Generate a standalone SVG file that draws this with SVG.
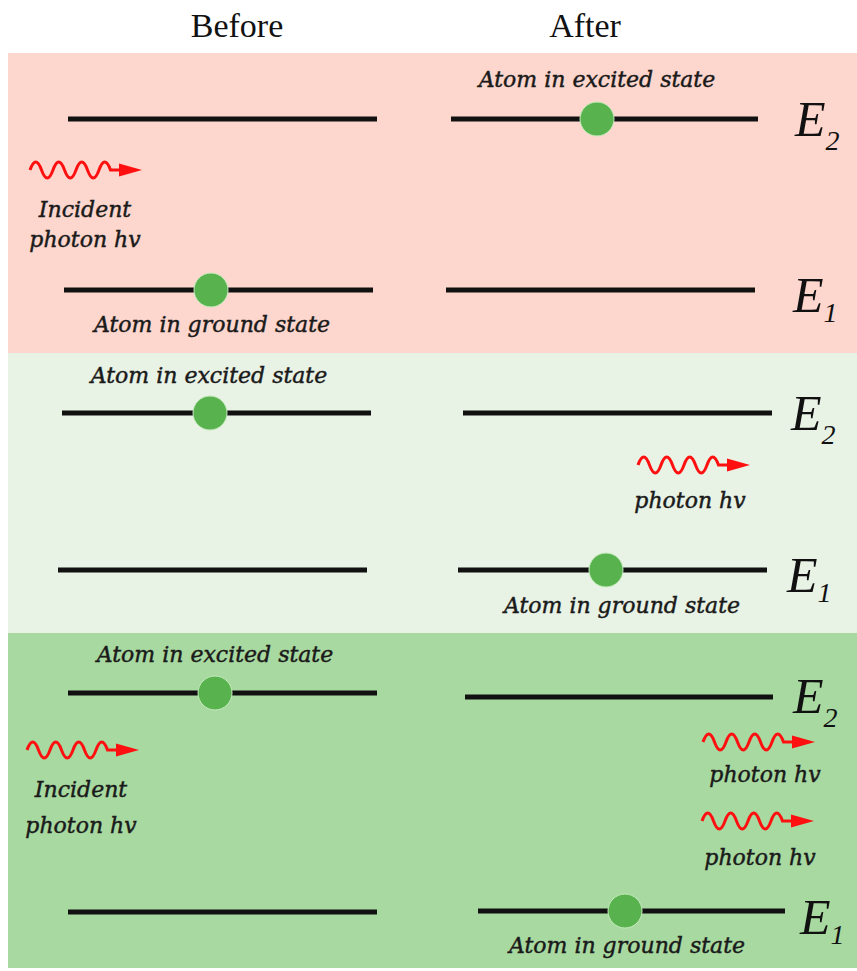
<svg xmlns="http://www.w3.org/2000/svg" xmlns:xlink="http://www.w3.org/1999/xlink" width="857" height="971" viewBox="0 0 857 971">
  <style>
    .lvl { stroke: #111; stroke-width: 5; stroke-linecap: butt; }
    .atom { fill: #58b24e; stroke: #c8ecc0; stroke-width: 1; }
    .lbl { font-family: "DejaVu Serif", serif; font-style: italic; font-size: 22px; fill: #1a1a1a; stroke: #1a1a1a; stroke-width: 0.45; text-anchor: middle; }
    .head { font-family: "Liberation Serif", serif; font-size: 34px; fill: #111; text-anchor: middle; }
    .en { font-family: "Liberation Serif", serif; font-style: italic; font-size: 50px; fill: #111; }
    .sub { font-size: 28px; }
    .wave { fill: none; stroke: #ff1010; stroke-width: 3; }
    .tip { fill: #ff1010; }
  </style>
  <defs>
    <!-- wavy photon with arrowhead, origin at wave start on its centre line -->
    <g id="photon">
      <path class="wave" d="M0,0 Q5.75,-16 11.5,0 Q17.25,16 23,0 Q28.75,-16 34.5,0 Q40.25,16 46,0 Q51.75,-16 57.5,0 Q63.25,16 69,0 Q74.75,-16 80.5,0 L92,0"/>
      <polygon class="tip" points="89,-6.5 112,0 89,6.5"/>
    </g>
  </defs>

  <rect width="857" height="971" fill="#ffffff"/>

  <!-- background bands -->
  <rect x="8" y="53" width="849" height="300" fill="#fdd6cd"/>
  <rect x="8" y="353" width="849" height="280" fill="#e8f2e5"/>
  <rect x="8" y="633" width="849" height="335" fill="#a8d9a0"/>

  <g id="headings">
    <text class="head" x="237" y="37">Before</text>
    <text class="head" x="585" y="37">After</text>
  </g>

  <!-- absorption -->
  <g id="absorption">
    <line class="lvl" x1="68" y1="119" x2="377" y2="119"/>
    <line class="lvl" x1="451" y1="119" x2="758" y2="119"/>
    <circle class="atom" cx="597" cy="119" r="17"/>
    <text class="lbl" x="597" y="87">Atom in excited state</text>
    <text class="en" x="795" y="136">E<tspan class="sub" dy="14">2</tspan></text>
    <use xlink:href="#photon" x="30" y="170"/>
    <text class="lbl" x="85" y="217">Incident</text>
    <text class="lbl" x="85" y="247">photon hv</text>
    <line class="lvl" x1="64" y1="290" x2="373" y2="290"/>
    <circle class="atom" cx="211" cy="290" r="17"/>
    <line class="lvl" x1="446" y1="290" x2="755" y2="290"/>
    <text class="lbl" x="212" y="332">Atom in ground state</text>
    <text class="en" x="793" y="312">E<tspan class="sub" dy="10">1</tspan></text>
  </g>

  <!-- spontaneous emission -->
  <g id="spontaneous">
    <text class="lbl" x="209" y="383">Atom in excited state</text>
    <line class="lvl" x1="62" y1="413" x2="371" y2="413"/>
    <circle class="atom" cx="210" cy="413" r="17"/>
    <line class="lvl" x1="463" y1="413" x2="772" y2="413"/>
    <text class="en" x="791" y="430">E<tspan class="sub" dy="14">2</tspan></text>
    <use xlink:href="#photon" x="638" y="465"/>
    <text class="lbl" x="690" y="508">photon hv</text>
    <line class="lvl" x1="58" y1="570" x2="367" y2="570"/>
    <line class="lvl" x1="458" y1="570" x2="767" y2="570"/>
    <circle class="atom" cx="606" cy="570" r="17"/>
    <text class="lbl" x="622" y="613">Atom in ground state</text>
    <text class="en" x="787" y="592">E<tspan class="sub" dy="10">1</tspan></text>
  </g>

  <!-- stimulated emission -->
  <g id="stimulated">
    <text class="lbl" x="215" y="662">Atom in excited state</text>
    <line class="lvl" x1="68" y1="693" x2="377" y2="693"/>
    <circle class="atom" cx="215" cy="693" r="17"/>
    <line class="lvl" x1="465" y1="697" x2="773" y2="697"/>
    <text class="en" x="793" y="713">E<tspan class="sub" dy="14">2</tspan></text>
    <use xlink:href="#photon" x="27" y="750"/>
    <text class="lbl" x="81" y="797">Incident</text>
    <text class="lbl" x="81" y="833">photon hv</text>
    <use xlink:href="#photon" x="703" y="742"/>
    <text class="lbl" x="765" y="782">photon hv</text>
    <use xlink:href="#photon" x="702" y="821"/>
    <text class="lbl" x="760" y="865">photon hv</text>
    <line class="lvl" x1="68" y1="912" x2="377" y2="912"/>
    <line class="lvl" x1="478" y1="911" x2="785" y2="911"/>
    <circle class="atom" cx="625" cy="911" r="17"/>
    <text class="lbl" x="627" y="953">Atom in ground state</text>
    <text class="en" x="800" y="934">E<tspan class="sub" dy="10">1</tspan></text>
  </g>
</svg>
